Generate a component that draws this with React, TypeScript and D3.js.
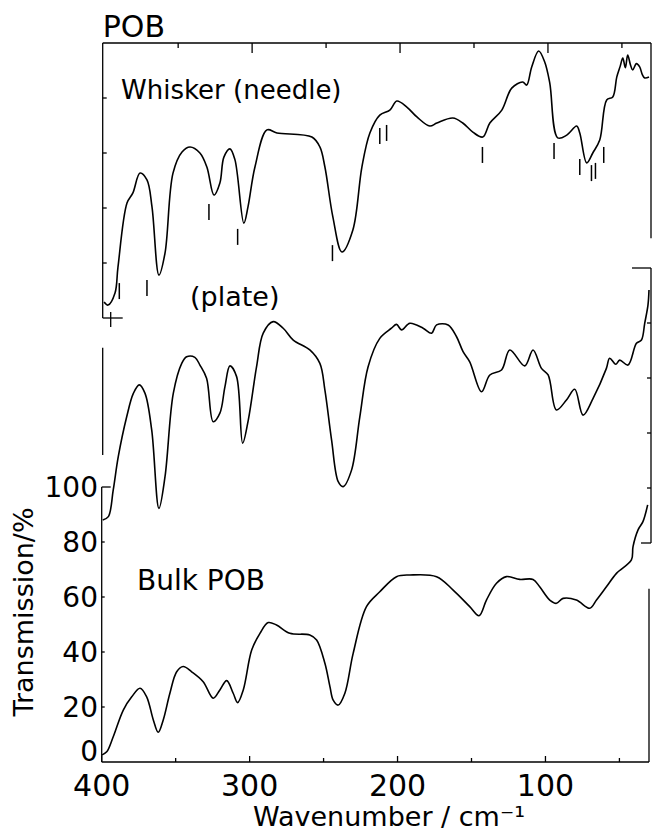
import React from "react";
import * as d3 from "d3";

const width = 652;
const height = 832;

// whisker (needle) trace: wavenumber / cm-1 and transmission / %
const needleWn = [398.4, 395.7, 391.0, 389.0, 382.9, 378.9, 374.1, 369.4, 366.0, 361.3, 357.2, 351.8, 345.7, 340.3, 333.6, 328.9, 324.1, 320.1, 317.4, 313.3, 309.9, 303.9, 301.1, 296.4, 288.3, 281.5, 257.9, 252.5, 249.1, 243.7, 237.6, 230.2, 224.1, 218.7, 212.0, 205.2, 200.5, 193.7, 186.9, 178.2, 173.4, 162.6, 155.9, 149.1, 142.4, 137.6, 129.5, 122.8, 115.4, 112.7, 109.3, 104.6, 100.5, 97.1, 91.7, 85.6, 78.9, 76.8, 72.1, 68.0, 63.3, 58.6, 54.5, 51.8, 49.5, 47.7, 46.0, 44.4, 42.5, 41.0, 38.5, 36.3, 34.5, 32.9, 30.0];
const needleT = [5.8, 4.7, 9.1, 18.5, 41.8, 45.5, 52.7, 50.2, 40.4, 15.6, 23.6, 52.7, 60.4, 62.2, 60.0, 54.9, 44.7, 49.1, 58.5, 61.5, 57.5, 34.5, 40.4, 54.9, 68.4, 67.3, 65.8, 62.2, 54.9, 36.7, 24.0, 32.0, 54.9, 67.3, 73.8, 75.6, 78.9, 76.7, 73.1, 69.8, 70.9, 72.7, 70.9, 67.6, 65.8, 70.9, 75.6, 83.6, 85.8, 84.7, 91.3, 97.1, 93.1, 85.5, 65.5, 66.5, 69.8, 67.3, 56.4, 60.0, 64.7, 79.3, 80.4, 87.6, 91.5, 94.5, 91.0, 95.6, 92.0, 90.2, 92.5, 91.3, 88.5, 87.3, 87.6];

// band positions marked under the needle trace, and the level where each mark starts
const needleBands = [388.1, 369.4, 327.5, 308.1, 244.0, 212.0, 207.4, 142.6, 94.2, 76.8, 68.9, 66.2, 60.6];
const needleBandLevel = [12.7, 13.8, 41.5, 32.4, 26.5, 69.1, 70.2, 62.2, 63.6, 57.8, 55.6, 56.4, 62.2];

// (plate) trace
const plateWn = [399.3, 395.5, 392.2, 388.8, 383.1, 378.6, 374.6, 370.7, 366.2, 361.3, 357.2, 351.6, 345.9, 342.6, 337.0, 333.6, 329.1, 324.6, 320.1, 316.7, 313.3, 308.8, 304.7, 300.9, 295.3, 290.8, 284.1, 277.3, 270.5, 259.3, 252.5, 249.1, 244.6, 240.1, 236.8, 231.1, 225.5, 219.9, 212.0, 204.1, 200.7, 197.3, 191.7, 182.7, 177.0, 173.6, 165.8, 160.1, 155.7, 151.2, 143.2, 137.6, 129.7, 124.1, 114.0, 108.4, 102.7, 98.2, 92.6, 85.8, 80.2, 74.6, 67.8, 58.8, 56.6, 52.5, 49.8, 44.2, 38.5, 35.1, 32.9, 30.7, 30.0];
const plateT = [8.4, 9.6, 19.3, 31.4, 45.9, 54.4, 57.5, 54.4, 41.1, 12.6, 24.1, 54.4, 65.3, 67.7, 67.5, 64.7, 59.9, 44.1, 47.2, 56.8, 64.4, 60.5, 36.3, 44.7, 64.1, 76.3, 80.5, 78.1, 73.8, 70.2, 65.3, 55.6, 37.5, 22.3, 20.5, 26.5, 45.9, 64.1, 74.4, 78.1, 79.5, 77.5, 79.9, 78.1, 76.3, 79.3, 79.3, 75.0, 69.6, 65.9, 55.0, 61.1, 62.9, 70.2, 64.4, 70.2, 63.5, 61.1, 48.4, 52.0, 55.9, 46.5, 52.6, 63.5, 67.2, 65.0, 66.5, 64.7, 72.6, 73.8, 79.9, 86.5, 92.0];

// bulk POB trace
const bulkWn = [400.0, 396.6, 392.2, 385.4, 379.7, 374.1, 369.6, 365.1, 361.8, 358.4, 353.9, 349.3, 344.9, 339.2, 331.4, 324.6, 320.1, 315.5, 311.1, 308.1, 304.3, 298.6, 293.0, 287.4, 281.8, 272.8, 259.3, 254.7, 249.1, 245.7, 243.5, 240.1, 235.6, 230.0, 221.0, 212.0, 200.7, 191.7, 173.6, 162.4, 151.2, 144.9, 139.9, 133.1, 126.4, 117.4, 108.4, 103.9, 97.1, 92.6, 88.1, 79.1, 70.1, 65.5, 58.8, 52.0, 41.9, 40.8, 37.4, 34.1, 30.9];
const bulkT = [2.5, 3.7, 9.2, 18.9, 23.7, 26.8, 23.7, 15.3, 10.8, 15.3, 25.0, 32.8, 34.7, 32.8, 29.2, 23.2, 26.2, 29.6, 25.0, 21.6, 26.2, 40.7, 46.8, 50.7, 49.8, 46.8, 46.2, 44.4, 35.9, 27.4, 22.5, 20.7, 25.0, 39.5, 56.5, 61.9, 67.4, 68.0, 67.4, 62.5, 56.5, 53.2, 58.9, 65.0, 67.4, 66.4, 66.4, 63.7, 58.9, 57.7, 59.5, 58.9, 55.9, 58.9, 63.7, 68.6, 73.5, 78.3, 84.4, 87.4, 93.5];

const yTicks = [0, 20, 40, 60, 80, 100];
const innerTicks = [20, 40, 60, 80];
const xMajor = [400, 300, 200, 100];
const xMinor = [350, 250, 150, 50];

const font = "DejaVu Sans";

const x = d3.scaleLinear().domain([400, 30]).range([101.7, 649]);
const yNeedle = d3.scaleLinear().domain([0, 100]).range([318, 43]);
const yPlate = d3.scaleLinear().domain([0, 100]).range([543, 268]);
const yBulk = d3.scaleLinear().domain([0, 100]).range([762, 487]);

function tracePath(wn: number[], t: number[], y: d3.ScaleLinear<number, number>) {
  const line = d3
    .line<number>()
    .x(i => x(wn[i]))
    .y(i => y(t[i]))
    .curve(d3.curveCatmullRom.alpha(0.5));
  return line(d3.range(wn.length)) || "";
}

export default function App() {
  const left = x(400);
  const right = x(30);
  const stroke = { stroke: "#000", fill: "none" };

  return (
    <svg
      width={width}
      height={height}
      style={{ position: "absolute", left: 0, top: 0, background: "#fff" }}
      fontFamily={font}
    >
      <rect width={width} height={height} fill="#fff" />

      {/* needle panel frame */}
      <g {...stroke} strokeWidth={1.3}>
        <line x1={left + 1} x2={right + 2} y1={yNeedle(100)} y2={yNeedle(100)} />
        <line x1={left + 1} x2={left + 1} y1={yNeedle(100)} y2={yNeedle(0)} />
        <line x1={right + 2} x2={right + 2} y1={yNeedle(100)} y2={yNeedle(29)} />
        <line x1={left + 1} x2={left + 21} y1={yNeedle(0)} y2={yNeedle(0)} />
        <line x1={left + 9} x2={left + 9} y1={yNeedle(0) - 6} y2={yNeedle(0) + 9} />
        {[...xMajor, ...xMinor]
          .filter(d => d < 400)
          .map(d => (
            <line
              key={d}
              x1={x(d) + 2.5}
              x2={x(d) + 2.5}
              y1={yNeedle(100)}
              y2={yNeedle(100) + (d % 100 === 0 ? 10 : 5)}
            />
          ))}
        {innerTicks.map(d => (
          <line key={d} x1={left + 1} x2={left + 5} y1={yNeedle(d)} y2={yNeedle(d)} />
        ))}
      </g>

      {/* plate panel axes */}
      <g {...stroke} strokeWidth={1.3}>
        <line x1={left + 1} x2={left + 1} y1={yPlate(71)} y2={yPlate(32)} />
        <line x1={right + 2} x2={right + 2} y1={yPlate(100)} y2={yPlate(0)} />
        <line x1={right - 17} x2={right + 2} y1={yPlate(100)} y2={yPlate(100)} />
        <line x1={right - 8} x2={right + 2} y1={yPlate(0)} y2={yPlate(0)} />
        {innerTicks.map(d => (
          <line key={d} x1={right - 2} x2={right + 2} y1={yPlate(d)} y2={yPlate(d)} />
        ))}
      </g>

      {/* bulk panel axes */}
      <g {...stroke} strokeWidth={1.3}>
        <line x1={left} x2={right} y1={yBulk(0)} y2={yBulk(0)} />
        <line x1={left} x2={left} y1={yBulk(100)} y2={yBulk(0)} />
        <line x1={left} x2={left + 9} y1={yBulk(100)} y2={yBulk(100)} />
        <line x1={right} x2={right} y1={yBulk(63)} y2={yBulk(0)} />
        {innerTicks.map(d => (
          <line key={d} x1={left} x2={left + 3} y1={yBulk(d)} y2={yBulk(d)} />
        ))}
        {xMajor.map(d => (
          <line key={d} x1={x(d)} x2={x(d)} y1={yBulk(0)} y2={yBulk(0) - 6} />
        ))}
        {xMinor.map(d => (
          <line key={d} x1={x(d)} x2={x(d)} y1={yBulk(0)} y2={yBulk(0) - 4} />
        ))}
      </g>

      {/* traces */}
      <g {...stroke} strokeWidth={1.6} strokeLinejoin="round">
        <path d={tracePath(needleWn, needleT, yNeedle)} />
        <path d={tracePath(plateWn, plateT, yPlate)} />
        <path d={tracePath(bulkWn, bulkT, yBulk)} />
      </g>

      {/* band marks */}
      <g {...stroke} strokeWidth={1.5}>
        {needleBands.map((d, i) => (
          <line
            key={i}
            x1={x(d)}
            x2={x(d)}
            y1={yNeedle(needleBandLevel[i])}
            y2={yNeedle(needleBandLevel[i]) + 16}
          />
        ))}
      </g>

      {/* labels */}
      <g fill="#000">
        <text x={left + 1} y={37} fontSize={30}>POB</text>
        <text x={121} y={99} fontSize={26}>Whisker (needle)</text>
        <text x={190} y={306} fontSize={27}>(plate)</text>
        <text x={137} y={590} fontSize={28}>Bulk POB</text>
        {yTicks.map(d => (
          <text
            key={d}
            x={98}
            y={yBulk(d) - (d === 0 ? 11 : 0)}
            dy="0.36em"
            textAnchor="end"
            fontSize={28}
          >
            {d}
          </text>
        ))}
        {xMajor.map(d => (
          <text key={d} x={x(d)} y={796} textAnchor="middle" fontSize={30}>
            {d}
          </text>
        ))}
        <text
          transform={`translate(33, 612) rotate(-90)`}
          textAnchor="middle"
          fontSize={27}
        >
          Transmission/%
        </text>
        <text x={253} y={826} fontSize={27}>
          Wavenumber / cm⁻¹
        </text>
      </g>
    </svg>
  );
}
